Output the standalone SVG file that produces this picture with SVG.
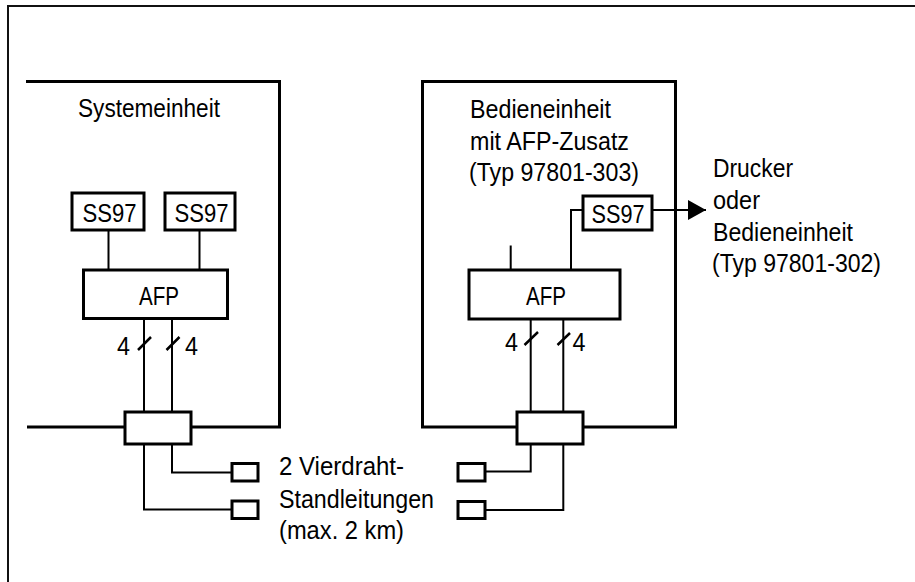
<svg xmlns="http://www.w3.org/2000/svg" width="915" height="582" viewBox="0 0 915 582">
<style>
text{font-family:"Liberation Sans",Arial,sans-serif;font-size:26px;fill:#000}
.n4{font-size:25px}
.box{fill:#fff;stroke:#000;stroke-width:3}
.enc{fill:none;stroke:#000;stroke-width:3}
.ln{fill:none;stroke:#000;stroke-width:2}
.tick{fill:none;stroke:#000;stroke-width:2.5}
.frame{fill:none;stroke:#111;stroke-width:2}
</style>
<defs>
<marker id="ah" markerWidth="18" markerHeight="20" refX="18" refY="10" orient="auto" markerUnits="userSpaceOnUse">
<path d="M0,0 L18,10 L0,20 Z" fill="#000"/>
</marker>
</defs>
<rect width="915" height="582" fill="#fff"/>
<path class="frame" d="M8,582 V6 H915"/>

<g id="systemeinheit">
<path class="enc" d="M26,81.5 H279.5 V427 H191 M27,427 H125"/>
<text x="78" y="116.5" textLength="142" lengthAdjust="spacingAndGlyphs">Systemeinheit</text>
</g>

<g id="bedieneinheit">
<path class="enc" d="M517,427 H422.5 V81.5 H675.5 V427 H583"/>
<text x="470" y="117.5" textLength="141" lengthAdjust="spacingAndGlyphs">Bedieneinheit</text>
<text x="470" y="149.5" textLength="159" lengthAdjust="spacingAndGlyphs">mit AFP-Zusatz</text>
<text x="469" y="181" textLength="170" lengthAdjust="spacingAndGlyphs">(Typ 97801-303)</text>
</g>

<g id="connectors">
<path class="ln" d="M108.5,230 V270 M199.5,230 V270"/>
<path class="ln" d="M144,318 V412 M172,318 V412"/>
<path class="tick" d="M138,350 L151,337 M166.5,350 L179.5,337"/>
<path class="ln" d="M144,444 V509.5 H232 M172,444 V472.5 H232"/>
<path class="ln" d="M583,210 H571 V270 M510.7,245.5 V270"/>
<path class="ln" d="M652,210 H706" marker-end="url(#ah)"/>
<path class="ln" d="M530.7,319 V412 M563.3,319 V412"/>
<path class="tick" d="M524.5,345 L538,332 M557.5,345 L570,333"/>
<path class="ln" d="M530.7,444 V471.5 H485 M563.3,444 V510 H485"/>
</g>

<g id="ss97-1">
<rect class="box" x="72" y="193" width="72" height="37"/>
<text x="82.5" y="222" textLength="54" lengthAdjust="spacingAndGlyphs">SS97</text>
</g>
<g id="ss97-2">
<rect class="box" x="165" y="193" width="70" height="37"/>
<text x="174.5" y="222" textLength="54" lengthAdjust="spacingAndGlyphs">SS97</text>
</g>
<g id="afp-1">
<rect class="box" x="83.5" y="270" width="144" height="48.5"/>
<text x="139" y="305" textLength="40" lengthAdjust="spacingAndGlyphs">AFP</text>
</g>
<g id="labels-4-1">
<text class="n4" x="117" y="355" textLength="13" lengthAdjust="spacingAndGlyphs">4</text>
<text class="n4" x="185" y="355" textLength="13" lengthAdjust="spacingAndGlyphs">4</text>
</g>
<g id="mux-1">
<rect class="box" x="125" y="412" width="66" height="32"/>
</g>
<g id="port-1a"><rect class="box" x="232" y="463.5" width="26" height="17.5"/></g>
<g id="port-1b"><rect class="box" x="232" y="501" width="26" height="17.5"/></g>

<g id="leitungen">
<text x="279" y="475" textLength="125" lengthAdjust="spacingAndGlyphs">2 Vierdraht-</text>
<text x="279" y="507.5" textLength="155" lengthAdjust="spacingAndGlyphs">Standleitungen</text>
<text x="279" y="539" textLength="125" lengthAdjust="spacingAndGlyphs">(max. 2 km)</text>
</g>

<g id="ss97-3">
<rect class="box" x="583" y="196" width="69" height="34"/>
<text x="591.5" y="223" textLength="53" lengthAdjust="spacingAndGlyphs">SS97</text>
</g>
<g id="afp-2">
<rect class="box" x="469" y="270" width="151" height="49"/>
<text x="526" y="305" textLength="40" lengthAdjust="spacingAndGlyphs">AFP</text>
</g>
<g id="labels-4-2">
<text class="n4" x="505" y="351" textLength="13" lengthAdjust="spacingAndGlyphs">4</text>
<text class="n4" x="572.5" y="351" textLength="13" lengthAdjust="spacingAndGlyphs">4</text>
</g>
<g id="mux-2">
<rect class="box" x="517" y="412" width="66" height="32"/>
</g>
<g id="port-2a"><rect class="box" x="458" y="463.5" width="27" height="17.5"/></g>
<g id="port-2b"><rect class="box" x="458" y="501.5" width="27" height="17"/></g>

<g id="drucker">
<text x="713" y="176.5" textLength="80" lengthAdjust="spacingAndGlyphs">Drucker</text>
<text x="713" y="208.5" textLength="47" lengthAdjust="spacingAndGlyphs">oder</text>
<text x="713" y="240.5" textLength="140" lengthAdjust="spacingAndGlyphs">Bedieneinheit</text>
<text x="712" y="272" textLength="169" lengthAdjust="spacingAndGlyphs">(Typ 97801-302)</text>
</g>
</svg>
